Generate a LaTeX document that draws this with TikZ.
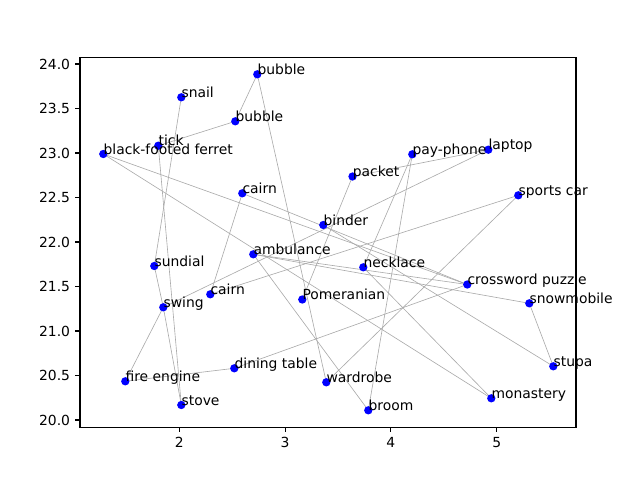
\documentclass[tikz,border=0pt]{standalone}
\usepackage{fontspec}
\setmainfont{DejaVu Sans}
\begin{document}
\begin{tikzpicture}[x=0.72pt,y=-0.72pt,
  edge/.style={draw={rgb,255:red,170;green,170;blue,170},line width=0.45pt},
  dot/.style={circle,fill={rgb,255:red,0;green,0;blue,255},inner sep=0pt,minimum size=6pt},
  lbl/.style={anchor=base west,inner sep=0pt,font=\fontsize{10}{12}\selectfont},
  spine/.style={line width=0.8pt,black},
  xtl/.style={anchor=north,inner sep=0pt,font=\fontsize{10}{12}\selectfont},
  ytl/.style={anchor=east,inner sep=0pt,font=\fontsize{10}{12}\selectfont}]
\useasboundingbox (0,0) rectangle (640,480);
% node positions (pixels)
\coordinate (bubbleA) at (257.3,74.3);
\coordinate (snail) at (181.3,97.3);
\coordinate (bubbleB) at (235.3,121.3);
\coordinate (tick) at (158.3,145.7);
\coordinate (ferret) at (103.3,154);
\coordinate (cairnA) at (242.3,193.3);
\coordinate (packet) at (352.5,176.5);
\coordinate (payphone) at (412.3,154.3);
\coordinate (laptop) at (488.3,149.7);
\coordinate (sportscar) at (518.3,195.3);
\coordinate (binder) at (323.3,225);
\coordinate (ambulance) at (253.3,254.3);
\coordinate (sundial) at (154.3,266);
\coordinate (necklace) at (363.3,267.3);
\coordinate (cairnB) at (210.3,294.3);
\coordinate (pomeranian) at (302.3,299.5);
\coordinate (swing) at (163.3,307.3);
\coordinate (crossword) at (467.3,284.5);
\coordinate (snowmobile) at (529.3,303.3);
\coordinate (stupa) at (553.3,366.3);
\coordinate (fireengine) at (125.3,381.3);
\coordinate (dining) at (234.3,368.3);
\coordinate (stove) at (181.3,405);
\coordinate (wardrobe) at (326.3,382.3);
\coordinate (broom) at (368.3,410.3);
\coordinate (monastery) at (491.3,398.3);
% axes frame corners
\coordinate (axNW) at (80,57.6);
\coordinate (axSE) at (576,427.2);
% edges
\draw[edge] (bubbleA) -- (bubbleB);
\draw[edge] (bubbleA) -- (wardrobe);
\draw[edge] (bubbleB) -- (tick);
\draw[edge] (snail) -- (sundial);
\draw[edge] (tick) -- (stove);
\draw[edge] (sundial) -- (swing);
\draw[edge] (swing) -- (stove);
\draw[edge] (swing) -- (fireengine);
\draw[edge] (fireengine) -- (dining);
\draw[edge] (dining) -- (crossword);
\draw[edge] (swing) -- (laptop);
\draw[edge] (laptop) -- (packet);
\draw[edge] (packet) -- (pomeranian);
\draw[edge] (payphone) -- (necklace);
\draw[edge] (payphone) -- (broom);
\draw[edge] (sportscar) -- (cairnB);
\draw[edge] (sportscar) -- (wardrobe);
\draw[edge] (cairnA) -- (cairnB);
\draw[edge] (cairnA) -- (crossword);
\draw[edge] (ferret) -- (crossword);
\draw[edge] (ferret) -- (monastery);
\draw[edge] (necklace) -- (monastery);
\draw[edge] (ambulance) -- (snowmobile);
\draw[edge] (ambulance) -- (crossword);
\draw[edge] (ambulance) -- (broom);
\draw[edge] (binder) -- (stupa);
\draw[edge] (snowmobile) -- (stupa);
% dots
\foreach \n in {bubbleA,snail,bubbleB,tick,ferret,cairnA,packet,payphone,laptop,sportscar,binder,ambulance,sundial,necklace,cairnB,pomeranian,swing,crossword,snowmobile,stupa,fireengine,dining,stove,wardrobe,broom,monastery}
  \node[dot] (\n D) at (\n) {};
% labels
\node[lbl] (bubbleAL) at (bubbleA) {bubble};
\node[lbl] (snailL) at (snail) {snail};
\node[lbl] (bubbleBL) at (bubbleB) {bubble};
\node[lbl] (tickL) at (tick) {tick};
\node[lbl] (ferretL) at (ferret) {black-footed ferret};
\node[lbl] (cairnAL) at (cairnA) {cairn};
\node[lbl] (packetL) at (packet) {packet};
\node[lbl] (payphoneL) at (payphone) {pay-phone};
\node[lbl] (laptopL) at (laptop) {laptop};
\node[lbl] (sportscarL) at (sportscar) {sports car};
\node[lbl] (binderL) at (binder) {binder};
\node[lbl] (ambulanceL) at (ambulance) {ambulance};
\node[lbl] (sundialL) at (sundial) {sundial};
\node[lbl] (necklaceL) at (necklace) {necklace};
\node[lbl] (cairnBL) at (cairnB) {cairn};
\node[lbl] (pomeranianL) at (pomeranian) {Pomeranian};
\node[lbl] (swingL) at (swing) {swing};
\node[lbl] (crosswordL) at (crossword) {crossword puzzle};
\node[lbl] (snowmobileL) at (snowmobile) {snowmobile};
\node[lbl] (stupaL) at (stupa) {stupa};
\node[lbl] (fireengineL) at (fireengine) {fire engine};
\node[lbl] (diningL) at (dining) {dining table};
\node[lbl] (stoveL) at (stove) {stove};
\node[lbl] (wardrobeL) at (wardrobe) {wardrobe};
\node[lbl] (broomL) at (broom) {broom};
\node[lbl] (monasteryL) at (monastery) {monastery};
% axes
\draw[spine] (axNW) rectangle (axSE);
\foreach \v/\p in {2/179.3,3/285.1,4/390.9,5/496.7} {
  \draw[line width=0.8pt] (\p,427.2) -- (\p,432.06);
  \node[xtl] (xt\v) at (\p,436.9) {\v};
}
\foreach \v/\p in {24.0/64,23.5/108.5,23.0/153,22.5/197.5,22.0/242,21.5/286.5,21.0/331,20.5/375.5,20.0/420} {
  \draw[line width=0.8pt] (80,\p) -- (75.14,\p);
  \node[ytl] (yt\v) at (70.3,\p) {\v};
}
\end{tikzpicture}
\end{document}
